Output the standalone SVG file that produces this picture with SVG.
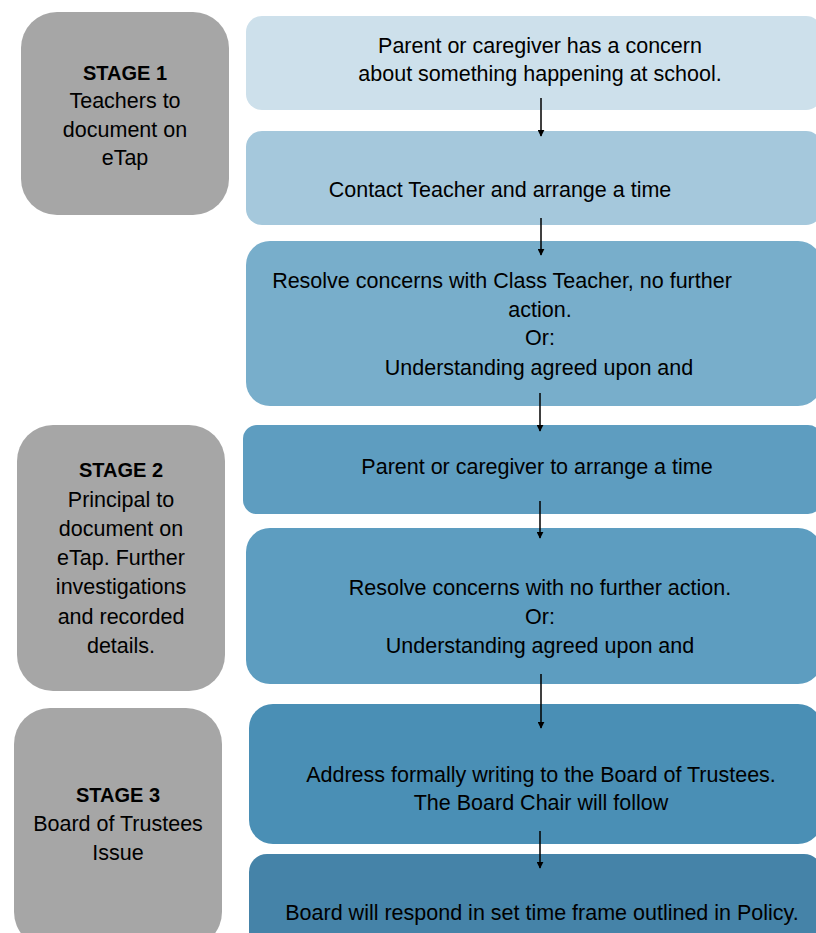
<svg xmlns="http://www.w3.org/2000/svg" width="816" height="933" viewBox="0 0 816 933">
<defs>
<marker id="ah" viewBox="0 0 10 10" refX="9" refY="5" markerWidth="7" markerHeight="7" markerUnits="userSpaceOnUse" orient="auto">
<path d="M0,0 L10,5 L0,10 z" fill="#000"/>
</marker>
<style>
.stage{fill:#a6a6a6}
text{font-family:"Liberation Sans",Arial,sans-serif;font-size:21.5px;fill:#000;text-anchor:middle}
.b{font-weight:bold;font-size:20px}
.arr{stroke:#000;stroke-width:1.5;fill:none;marker-end:url(#ah)}
</style>
</defs>
<rect width="816" height="933" fill="#fff"/>
<g id="stage1"><rect class="stage" x="21" y="12" width="208" height="203" rx="36"/>
<text x="125" y="80" class="b">STAGE 1</text><text x="125" y="108">Teachers to</text><text x="125" y="137">document on</text><text x="125" y="165">eTap</text></g>
<g id="stage2"><rect class="stage" x="17" y="425" width="208" height="266" rx="36"/>
<text x="121" y="477" class="b">STAGE 2</text><text x="121" y="507">Principal to</text><text x="121" y="536">document on</text><text x="121" y="565">eTap. Further</text><text x="121" y="594">investigations</text><text x="121" y="624">and recorded</text><text x="121" y="653">details.</text></g>
<g id="stage3"><rect class="stage" x="14" y="708" width="208" height="240" rx="36"/>
<text x="118" y="802" class="b">STAGE 3</text><text x="118" y="831">Board of Trustees</text><text x="118" y="860">Issue</text></g>
<g id="n1"><rect x="246" y="16" width="576" height="94" rx="16" fill="#cde0eb"/>
<text x="540" y="53">Parent or caregiver has a concern</text><text x="540" y="81">about something happening at school.</text></g>
<g id="n2"><rect x="246" y="131" width="576" height="94" rx="16" fill="#a5c8dc"/>
<text x="500" y="197">Contact Teacher and arrange a time</text></g>
<g id="n3"><rect x="246" y="241" width="576" height="165" rx="24" fill="#78aecb"/>
<text x="502" y="288">Resolve concerns with Class Teacher, no further</text><text x="540" y="317">action.</text><text x="540" y="345">Or:</text><text x="539" y="375">Understanding agreed upon and</text></g>
<g id="n4"><rect x="243" y="425" width="579" height="89" rx="14" fill="#5e9dc0"/>
<text x="537" y="474">Parent or caregiver to arrange a time</text></g>
<g id="n5"><rect x="246" y="528" width="576" height="156" rx="24" fill="#5d9dc0"/>
<text x="540" y="595">Resolve concerns with no further action.</text><text x="540" y="624">Or:</text><text x="540" y="653">Understanding agreed upon and</text></g>
<g id="n6"><rect x="249" y="704" width="573" height="140" rx="24" fill="#4a8fb5"/>
<text x="541" y="782">Address formally writing to the Board of Trustees.</text><text x="541" y="810">The Board Chair will follow</text></g>
<g id="n7"><rect x="249" y="854" width="573" height="100" rx="18" fill="#4583a8"/>
<text x="542" y="920">Board will respond in set time frame outlined in Policy.</text></g>
<g id="connectors">
<line class="arr" x1="541" y1="98" x2="541" y2="136"/>
<line class="arr" x1="541" y1="218" x2="541" y2="255"/>
<line class="arr" x1="540" y1="393" x2="540" y2="431"/>
<line class="arr" x1="540" y1="501" x2="540" y2="538"/>
<line class="arr" x1="541" y1="674" x2="541" y2="728"/>
<line class="arr" x1="540" y1="831" x2="540" y2="868"/>
</g>
</svg>
